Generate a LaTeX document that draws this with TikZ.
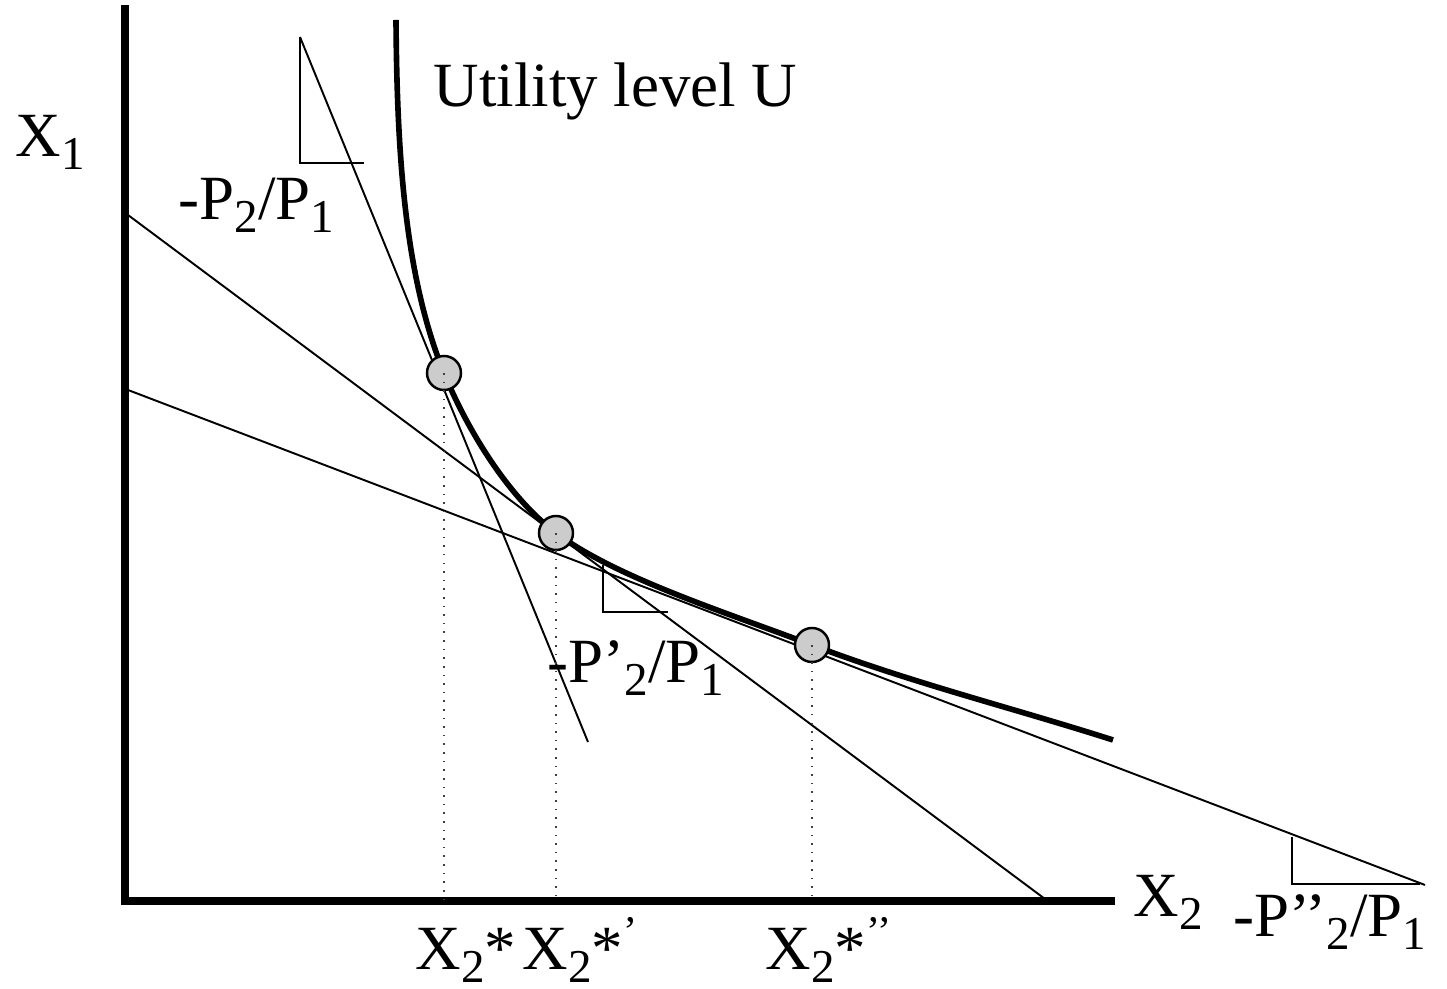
\documentclass[tikz,border=0pt]{standalone}
\usepackage{fontspec}
\setmainfont{Liberation Serif}
\newcommand\lowsub[1]{\raisebox{-3.7pt}{\fontsize{13.4}{14}\selectfont #1}}
\newcommand\hisup[1]{\raisebox{7pt}{\fontsize{12}{12}\selectfont #1}}
\begin{document}
\begin{tikzpicture}[x=0.01cm,y=-0.01cm,
  lbl/.style={inner sep=0pt, anchor=base west, font=\fontsize{17.9}{20}\selectfont},
  axisline/.style={line width=2pt},
  ucurve/.style={line width=1.6pt},
  thinline/.style={line width=0.55pt},
  dot/.style={circle, draw=black, line width=0.7pt, fill=black!20, minimum size=0.34cm, inner sep=0pt},
  drop/.style={dotted, line width=0.45pt, black!75}]
\useasboundingbox (0,0) rectangle (1447,989);
% axes
\coordinate (ytop) at (125,5);
\coordinate (origin) at (125,901);
\coordinate (xend) at (1115,901);
% budget lines
\coordinate (a1) at (300,37);
\coordinate (a2) at (588,742);
\coordinate (b1) at (128,215);
\coordinate (b2) at (1045,899);
\coordinate (c1) at (128,390);
\coordinate (c2) at (1425,885);
\draw[thinline] (a1) -- (a2);
\draw[thinline] (b1) -- (b2);
\draw[thinline] (c1) -- (c2);
% slope triangles
\coordinate (t1a) at (300,163);
\coordinate (t1b) at (364,163);
\draw[thinline] (a1) -- (t1a) -- (t1b);
\coordinate (t2a) at (603,565);
\coordinate (t2b) at (603,612);
\coordinate (t2c) at (668,612);
\draw[thinline] (t2a) -- (t2b) -- (t2c);
\coordinate (t3a) at (1292,837);
\coordinate (t3b) at (1292,884);
\coordinate (t3c) at (1420,884);
\draw[thinline] (t3a) -- (t3b) -- (t3c);
% tangency points
\coordinate (p1) at (444,373);
\coordinate (p2) at (556,533);
\coordinate (p3) at (812,645);
% utility curve
\coordinate (u0) at (396,20);
\coordinate (u4) at (1113,740);
\draw[ucurve] (u0) .. controls (397,150) and (404,275) .. (p1)
  .. controls (469,434) and (511,499.5) .. (p2)
  .. controls (616,577.6) and (722,611) .. (p3)
  .. controls (912,683) and (1013,708) .. (u4);
\draw[axisline] (ytop) -- (origin) -- (xend);
\node[dot] (n1) at (p1) {};
\node[dot] (n2) at (p2) {};
\node[dot] (n3) at (p3) {};
\draw[drop] (n1.center) -- (n1.center |- origin);
\draw[drop] (n2.center) -- (n2.center |- origin);
\draw[drop] (n3.center) -- (n3.center |- origin);
% labels
\node[lbl] (ul) at (433,107) {Utility level U};
\node[lbl] (x1) at (15,157) {X\lowsub{1}};
\node[lbl] (x2) at (1133,917) {X\lowsub{2}};
\node[lbl] (s1) at (178,220) {-P\lowsub{2}/P\lowsub{1}};
\node[lbl] (s2) at (547,683) {-P’\lowsub{2}/P\lowsub{1}};
\node[lbl] (s3) at (1233,937) {-P’’\lowsub{2}/P\lowsub{1}};
\node[lbl] (q1) at (415,970) {X\lowsub{2}*};
\node[lbl] (q2) at (522,970) {X\lowsub{2}*\hisup{’}};
\node[lbl] (q3) at (765,970) {X\lowsub{2}*\hisup{’’}};
\end{tikzpicture}
\end{document}
